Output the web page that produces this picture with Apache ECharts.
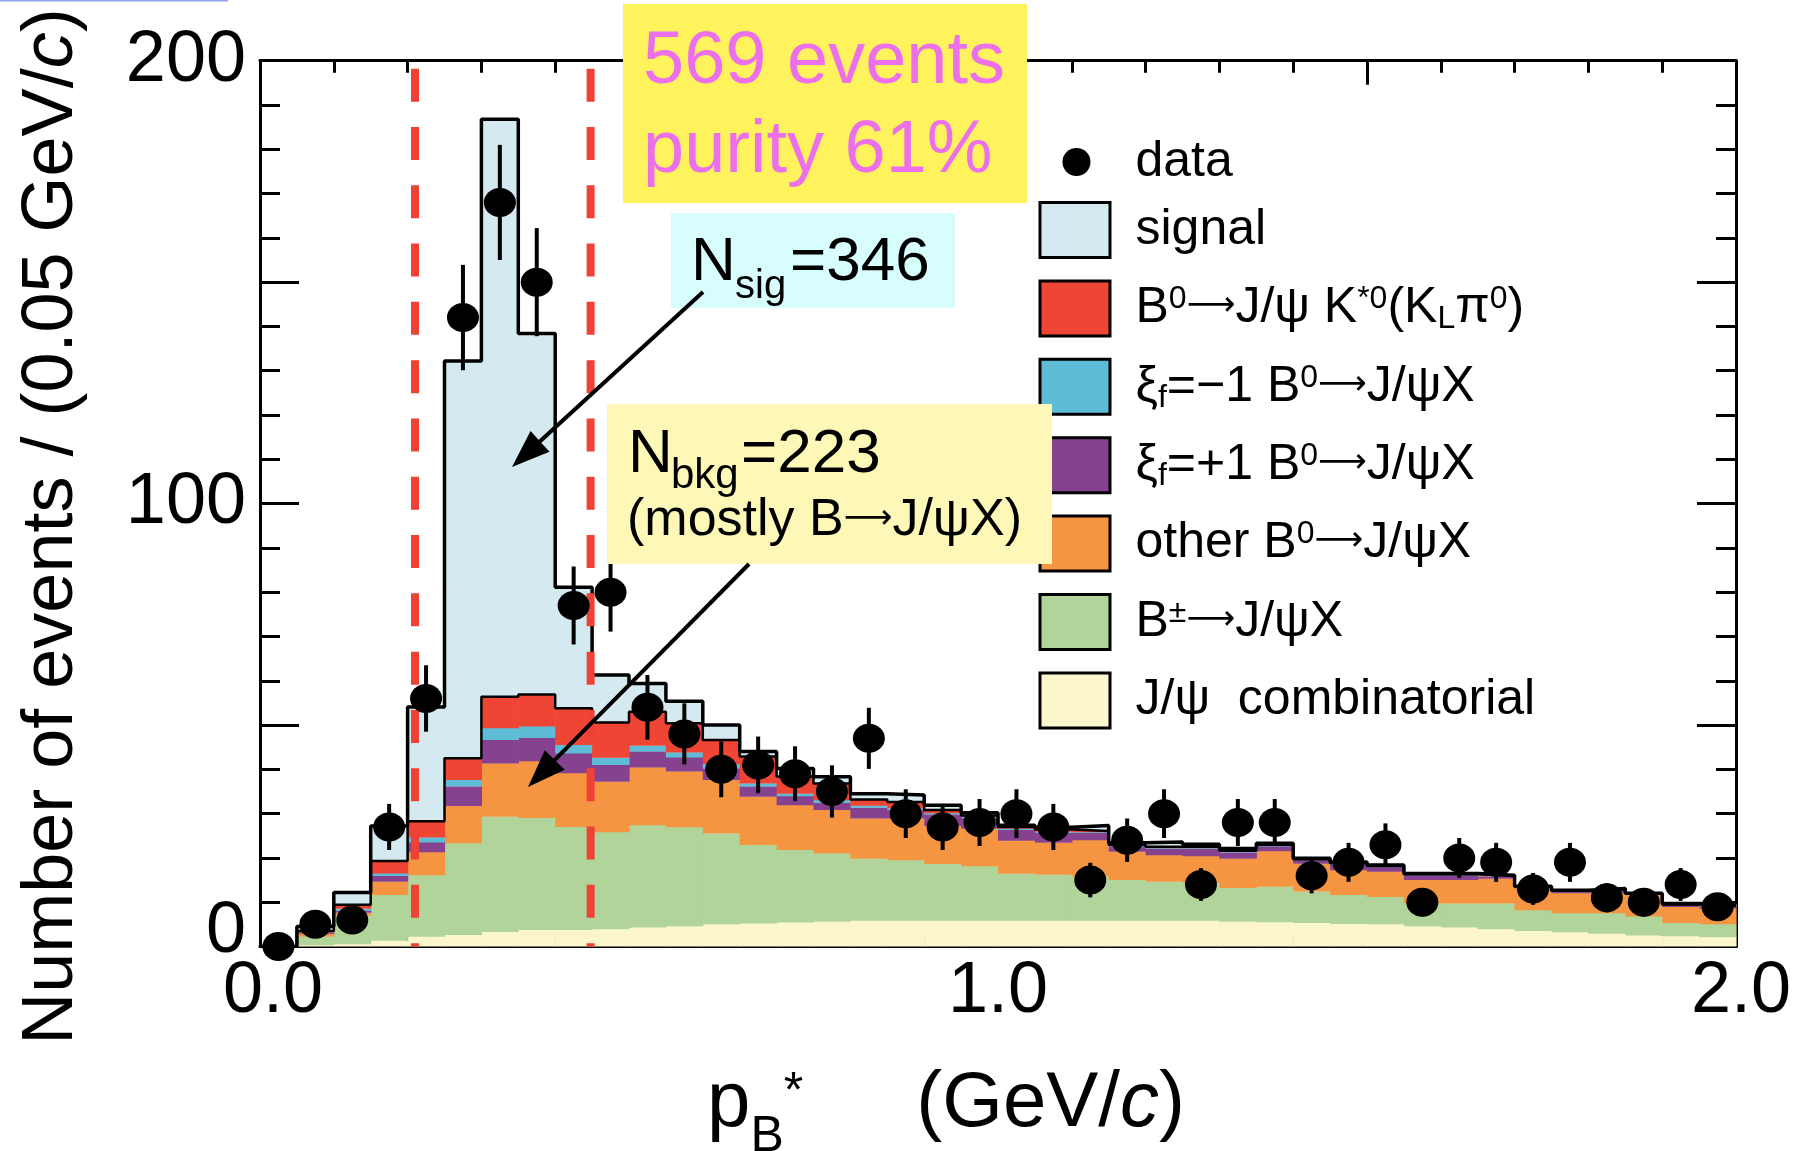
<!DOCTYPE html>
<html>
<head>
<meta charset="utf-8">
<script src="https://cdn.jsdelivr.net/npm/echarts@6/dist/echarts.min.js"></script>
<style>
  html, body { margin: 0; padding: 0; background: #fff; }
  #chart { width: 1805px; height: 1151px; }
</style>
</head>
<body>
<div id="chart"></div>
<script>
// p_B* distribution, 0.05 GeV/c bins from 0 to 2.0 GeV/c
const binWidth = 0.05;
const binLow = [0.00, 0.05, 0.10, 0.15, 0.20, 0.25, 0.30, 0.35, 0.40, 0.45,
                0.50, 0.55, 0.60, 0.65, 0.70, 0.75, 0.80, 0.85, 0.90, 0.95,
                1.00, 1.05, 1.10, 1.15, 1.20, 1.25, 1.30, 1.35, 1.40, 1.45,
                1.50, 1.55, 1.60, 1.65, 1.70, 1.75, 1.80, 1.85, 1.90, 1.95];

// MC components (events per bin), bottom of the stack first
const combinatorial = [0, 0.3, 0.5, 1.3, 2.2, 2.6, 3.3, 3.7, 3.7, 3.9, 4.3, 4.6, 5.0, 5.2, 5.4, 5.6, 5.8, 5.8, 5.8, 5.8,
                       5.8, 5.8, 5.8, 5.8, 5.8, 5.8, 5.6, 5.5, 5.3, 5.1, 5.0, 4.6, 4.3, 3.9, 3.5, 3.2, 2.9, 2.5, 2.3, 2.1];
const bChargedX = [0, 1.9, 6.5, 10.3, 13.9, 20.7, 26.0, 25.3, 23.3, 21.9, 23.1, 22.3, 20.5, 17.7, 16.4, 15.4, 14.0, 13.7, 12.8, 12.3,
                   10.6, 10.4, 10.0, 9.2, 8.8, 8.6, 7.6, 8.0, 7.1, 6.5, 6.2, 5.1, 5.4, 5.8, 4.7, 4.3, 4.6, 4.3, 3.0, 2.9];
const otherB0X = [0, 0.6, 0.6, 3.0, 5.2, 8.4, 12.0, 12.8, 12.1, 11.4, 13.0, 12.6, 12.1, 10.9, 10.1, 9.8, 9.1, 9.4, 8.6, 8.5,
                  7.5, 7.2, 8.2, 6.4, 6.0, 6.0, 6.6, 8.0, 6.3, 5.6, 5.7, 5.3, 5.3, 5.6, 4.9, 4.5, 4.5, 4.8, 3.6, 3.6];
const xiPlusX = [0, 0.2, 0.5, 1.3, 2.2, 4.4, 5.3, 5.3, 4.5, 3.8, 3.6, 3.2, 2.6, 2.3, 2.0, 1.6, 2.4, 1.9, 2.6, 2.4,
                 2.4, 2.3, 1.6, 1.2, 1.4, 1.6, 1.4, 1.1, 0.8, 1.2, 1.0, 1.0, 1.0, 0.4, 0.2, 0.4, 0.7, 0.2, 0.4, 0.4];
const xiMinusX = [0, 0.1, 0.4, 0.6, 1.1, 1.5, 2.7, 2.6, 1.9, 1.6, 1.3, 1.1, 1.0, 0.7, 0.6, 0.6, 0.5, 0.4, 0.3, 0.3,
                  0.3, 0.2, 0.2, 0.2, 0.2, 0.2, 0.2, 0.2, 0.1, 0.2, 0.1, 0.2, 0.2, 0.1, 0.1, 0.1, 0.1, 0.1, 0.1, 0.1];
const kstarKLpi0 = [0, 0.4, 0.9, 2.8, 3.7, 4.9, 7.1, 7.2, 8.3, 8.0, 7.7, 6.6, 5.4, 6.1, 3.9, 3.8, 1.4, 1.4, 0.7, 0.3,
                    0.4, 0.5, 0.3, 0.2, 0.3, 0.3, 0.2, 0.2, 0.1, 0.2, 0.2, 0.1, 0.1, 0.1, 0.1, 0.1, 0.1, 0.05, 0.1, 0.1];
const signalMC = [0, 1.0, 2.8, 7.9, 25.8, 89.7, 130.4, 81.5, 27.3, 10.7, 6.4, 5.0, 3.4, 1.1, 1.8, 1.5, 1.3, 1.6, 1.1, 0.6,
                  0.4, 0.5, 1.2, 0.4, 1.1, 0.6, 0.5, 0.3, 0.2, 0.3, 0.2, 0.2, 0.2, 0.2, 0.1, 0.1, 0.2, 0.05, 0.2, 0.2];

// Data: events per bin and their statistical errors
const dataCounts = [0, 5, 6, 27, 56, 142, 168, 150, 77, 80, 54, 48, 40, 41, 39, 35, 47, 30, 27, 28,
                    30, 27, 15, 24, 30, 14, 28, 28, 16, 19, 23, 10, 20, 19, 13, 19, 11, 10, 14, 9];
const dataErrors = [0, 2.2, 2.4, 5.2, 7.5, 11.9, 13.0, 12.2, 8.8, 8.9, 7.3, 6.9, 6.3, 6.4, 6.2, 5.9, 6.9, 5.5, 5.2, 5.3,
                    5.5, 5.2, 3.9, 4.9, 5.5, 3.7, 5.3, 5.3, 4.0, 4.4, 4.8, 3.2, 4.5, 4.4, 3.6, 4.4, 3.3, 3.2, 3.7, 3.0];

// Signal-region cut positions (GeV/c)
const cutValues = [0.21, 0.448];

// Axis tick labels
const xTickLabels = { 0: '0.0', 1: '1.0', 2: '2.0' };
const yTickLabels = { 0: '0', 100: '100', 200: '200' };

const FONT = '"Liberation Sans", Arial, Helvetica, sans-serif';
const ARROW_FONT = '"DejaVu Sans", sans-serif';

const stackParts = [
  { name: 'comb',   values: combinatorial, color: '#fcf6cc' },
  { name: 'bpm',    values: bChargedX,     color: '#b1d49b' },
  { name: 'other',  values: otherB0X,      color: '#f59541' },
  { name: 'xip',    values: xiPlusX,       color: '#86418f' },
  { name: 'xim',    values: xiMinusX,      color: '#5ebcd6' },
  { name: 'kstar',  values: kstarKLpi0,    color: '#ef4535' },
  { name: 'signal', values: signalMC,      color: '#d4eaf0' }
];

const series = [];
const base = binLow.map(() => 0);
let backgroundTop = null;
stackParts.forEach((part) => {
  const data = binLow.map((x0, i) => [x0, x0 + binWidth, base[i], base[i] + part.values[i]]);
  part.values.forEach((v, i) => { base[i] += v; });
  if (part.name === 'kstar') backgroundTop = base.slice();
  const color = part.color;
  series.push({
    type: 'custom',
    name: part.name,
    z: 2,
    silent: true,
    itemStyle: { color },
    encode: { x: [0, 1], y: [2, 3] },
    renderItem(params, api) {
      const p0 = api.coord([api.value(0), api.value(3)]);
      const p1 = api.coord([api.value(1), api.value(2)]);
      return {
        type: 'rect',
        shape: { x: p0[0], y: p0[1] - 0.3, width: p1[0] - p0[0] + 0.6, height: p1[1] - p0[1] + 0.3 },
        style: { fill: color }
      };
    },
    data
  });
});
const totalTop = base.slice();

function stepPoints(tops) {
  const pts = binLow.map((x, i) => [x, tops[i]]);
  pts.push([binLow[binLow.length - 1] + binWidth, tops[tops.length - 1]]);
  return pts;
}

// black outlines: background sum and full MC sum
series.push({
  type: 'line', name: 'bkgOutline', step: 'end', symbol: 'none', silent: true, z: 3,
  data: stepPoints(backgroundTop), lineStyle: { color: '#000', width: 2.5 }
});
series.push({
  type: 'line', name: 'totalOutline', step: 'end', symbol: 'none', silent: true, z: 4,
  data: stepPoints(totalTop), lineStyle: { color: '#000', width: 3.5 }
});

// red dashed cut lines
cutValues.forEach((c, k) => {
  series.push({
    type: 'line', name: 'cut' + k, symbol: 'none', silent: true, z: 5,
    data: [[c, 198.2], [c, 0]],
    lineStyle: { color: '#ef4136', width: 8, type: [33, 25.3], cap: 'butt' }
  });
});

const binCenters = binLow.map((x) => x + binWidth / 2);

// error bars
series.push({
  type: 'custom', name: 'errors', z: 6, silent: true,
  encode: { x: 0, y: 1 },
  renderItem(params, api) {
    const x = api.value(0), v = api.value(1), e = api.value(2);
    const a = api.coord([x, v + e]);
    const b = api.coord([x, v - e]);
    return { type: 'line', shape: { x1: a[0], y1: a[1], x2: b[0], y2: b[1] }, style: { stroke: '#000', lineWidth: 4 } };
  },
  data: binCenters.map((x, i) => [x, dataCounts[i], dataErrors[i]])
});

// data points
series.push({
  type: 'scatter', name: 'data', z: 7, silent: true,
  symbol: 'circle', symbolSize: [32, 29],
  itemStyle: { color: '#000', borderWidth: 0, opacity: 1 },
  data: binCenters.map((x, i) => [x, dataCounts[i]])
});

const legendLabels = {
  data: '{g0| }{t|data}',
  signal: '{g| }{t|signal}',
  kstar: '{g| }{t|B}{sup|0}{ar|⟶}{t|J/ψ K}{sup|*0}{t|(K}{sub|L}{t|π}{sup|0}{t|)}',
  xim: '{g| }{t|ξ}{sub|f}{t|=−1 B}{sup|0}{ar|⟶}{t|J/ψX}',
  xip: '{g| }{t|ξ}{sub|f}{t|=+1 B}{sup|0}{ar|⟶}{t|J/ψX}',
  other: '{g| }{t|other B}{sup|0}{ar|⟶}{t|J/ψX}',
  bpm: '{g| }{t|B}{sup|±}{ar|⟶}{t|J/ψX}',
  comb: '{g| }{t|J/ψ  combinatorial}'
};
const legendRich = {
  t: { fontSize: 50, fontFamily: FONT, color: '#000', lineHeight: 57 },
  ar: { fontSize: 34, fontFamily: ARROW_FONT, color: '#000', lineHeight: 34, padding: [0, 0, 4, 0] },
  sup: { fontSize: 32, fontFamily: FONT, color: '#000', lineHeight: 32, padding: [0, 0, 18, 0] },
  sub: { fontSize: 32, fontFamily: FONT, color: '#000', lineHeight: 32, padding: [22, 0, 0, 0] },
  g: { width: 20.5, lineHeight: 57, fontSize: 10 },
  g0: { width: 40, lineHeight: 57, fontSize: 10 }
};

const legendColors = {};
stackParts.forEach((p) => { legendColors[p.name] = p.color; });
const boxItems = ['signal', 'kstar', 'xim', 'xip', 'other', 'bpm', 'comb'].map((n) => ({
  name: n, icon: 'rect',
  itemStyle: { color: legendColors[n], borderColor: '#000', borderWidth: 3 }
}));

function arrow(x1, y1, x2, y2) {
  const dx = x2 - x1, dy = y2 - y1, L = Math.hypot(dx, dy);
  const ux = dx / L, uy = dy / L;
  const hl = 38, hw = 14;
  const bx = x2 - ux * hl, by = y2 - uy * hl;
  return [
    { type: 'line', z: 120, shape: { x1, y1, x2: bx + ux * 4, y2: by + uy * 4 }, style: { stroke: '#000', lineWidth: 4 } },
    { type: 'polygon', z: 120, shape: { points: [[x2, y2], [bx - uy * hw, by + ux * hw], [bx + uy * hw, by - ux * hw]] }, style: { fill: '#000' } }
  ];
}

function txt(x, y, text, size, color) {
  return { type: 'text', x, y, z: 121, style: { text, font: size + 'px ' + FONT, fill: color, verticalAlign: 'middle', align: 'left' } };
}

const graphics = [
  { type: 'rect', z: 110, shape: { x: 0, y: 0, width: 228, height: 1.5 }, style: { fill: '#8ea3ee' } },
  { type: 'rect', z: 110, shape: { x: 623, y: 4, width: 404, height: 199 }, style: { fill: '#fef25d' } },
  txt(643, 63, '569 events', 74, '#ec70ec'),
  txt(643, 152, 'purity 61%', 74, '#ec70ec'),
  { type: 'rect', z: 110, shape: { x: 671, y: 213, width: 284, height: 95 }, style: { fill: '#d8fdfd' } },
  txt(691, 263, 'N', 62, '#000'),
  txt(735, 287, 'sig', 40, '#000'),
  txt(790, 263, '=346', 62, '#000'),
  { type: 'rect', z: 110, shape: { x: 607, y: 404, width: 445, height: 160 }, style: { fill: '#fdf8b7' } },
  txt(628, 455, 'N', 62, '#000'),
  txt(671, 476, 'bkg', 42, '#000'),
  txt(741, 455, '=223', 62, '#000'),
  {
    type: 'text', x: 627, y: 521, z: 121,
    style: {
      text: '{a|(mostly B}{r|⟶}{a|J/ψX)}',
      verticalAlign: 'middle', align: 'left',
      rich: {
        a: { fontSize: 52, fontFamily: FONT, fill: '#000', color: '#000' },
        r: { fontSize: 34, fontFamily: ARROW_FONT, fill: '#000', color: '#000', padding: [0, 0, 4, 0] }
      }
    }
  },
  ...arrow(703, 292, 512, 467),
  ...arrow(749, 564, 528, 787)
];

const axisCommon = {
  type: 'value',
  axisLine: { show: true, onZero: false, lineStyle: { color: '#000', width: 3 } },
  splitLine: { show: false }
};

const option = {
  animation: false,
  backgroundColor: '#fff',
  grid: { left: 260, right: 69, top: 60.7, bottom: 204.5, containLabel: false, outerBoundsMode: 'none' },
  xAxis: [
    Object.assign({}, axisCommon, {
      position: 'bottom', min: 0, max: 2, interval: 0.5,
      axisTick: { show: true, inside: true, length: 24, lineStyle: { color: '#000', width: 3 } },
      minorTick: { show: true, splitNumber: 5, length: 12, lineStyle: { color: '#000', width: 3 } },
      axisLabel: {
        show: true, margin: 10, color: '#000', fontSize: 72, fontFamily: FONT,
        formatter: (v) => {
          const r = Math.round(v * 10) / 10;
          if (r === 0) return '{l|' + xTickLabels[0] + '}';
          if (r === 1) return '{a|' + xTickLabels[1] + '}';
          if (r === 2) return '{r|' + xTickLabels[2] + '}';
          return '';
        },
        rich: {
          a: { fontSize: 72, fontFamily: FONT, color: '#000' },
          l: { fontSize: 72, fontFamily: FONT, color: '#000', padding: [0, 0, 0, 26] },
          r: { fontSize: 72, fontFamily: FONT, color: '#000', padding: [0, 0, 0, 10] }
        }
      },
      name: '{p|p}{sub|B}{sup|*}{g| }{n|(GeV/}{it|c}{n|)}',
      nameLocation: 'middle',
      nameGap: 100,
      nameTextStyle: {
        padding: [0, 104, 0, 0],
        rich: {
          p: { fontSize: 78, fontFamily: FONT, color: '#000' },
          n: { fontSize: 78, fontFamily: FONT, color: '#000' },
          it: { fontSize: 78, fontFamily: FONT, color: '#000', fontStyle: 'italic' },
          sub: { fontSize: 50, fontFamily: FONT, color: '#000', padding: [66, 0, 0, 0] },
          sup: { fontSize: 50, fontFamily: FONT, color: '#000', padding: [0, 0, 22, 0] },
          g: { width: 113, fontSize: 10 }
        }
      }
    }),
    Object.assign({}, axisCommon, {
      position: 'top', min: 0, max: 2, interval: 0.5,
      axisTick: { show: true, inside: true, length: 24, lineStyle: { color: '#000', width: 3 } },
      minorTick: { show: true, splitNumber: 5, length: 12, lineStyle: { color: '#000', width: 3 } },
      axisLabel: { show: false }
    })
  ],
  yAxis: [
    Object.assign({}, axisCommon, {
      position: 'left', min: 0, max: 200, interval: 50,
      axisTick: { show: true, inside: true, length: 39, lineStyle: { color: '#000', width: 3 } },
      minorTick: { show: true, splitNumber: 5, length: 20, lineStyle: { color: '#000', width: 3 } },
      axisLabel: {
        show: true, margin: 14, color: '#000', fontSize: 72, fontFamily: FONT,
        formatter: (v) => {
          if (v === 0) return '{z|' + yTickLabels[0] + '}';
          if (yTickLabels[v] !== undefined) return '{a|' + yTickLabels[v] + '}';
          return '';
        },
        rich: {
          a: { fontSize: 72, fontFamily: FONT, color: '#000' },
          z: { fontSize: 72, fontFamily: FONT, color: '#000', padding: [0, 0, 29, 0] }
        }
      },
      name: '{n|Number of events / (0.05 GeV/}{it|c}{n|)}',
      nameLocation: 'middle',
      nameGap: 172,
      nameTextStyle: {
        padding: [0, 46, 0, 0],
        rich: {
          n: { fontSize: 72, fontFamily: FONT, color: '#000' },
          it: { fontSize: 72, fontFamily: FONT, color: '#000', fontStyle: 'italic' }
        }
      }
    }),
    Object.assign({}, axisCommon, {
      position: 'right', min: 0, max: 200, interval: 50,
      axisTick: { show: true, inside: true, length: 39, lineStyle: { color: '#000', width: 3 } },
      minorTick: { show: true, splitNumber: 5, length: 20, lineStyle: { color: '#000', width: 3 } },
      axisLabel: { show: false }
    })
  ],
  legend: [
    {
      data: [{ name: 'data', icon: 'circle', itemStyle: { color: '#000', borderWidth: 0 } }],
      orient: 'vertical', left: 1057.5, top: 132,
      itemWidth: 28, itemHeight: 28, selectedMode: false,
      formatter: (n) => legendLabels[n],
      textStyle: { fontSize: 50, fontFamily: FONT, color: '#000', rich: legendRich }
    },
    {
      data: boxItems,
      orient: 'vertical', left: 1033.5, top: 196,
      itemWidth: 70, itemHeight: 55, itemGap: 20.4, selectedMode: false,
      formatter: (n) => legendLabels[n],
      textStyle: { fontSize: 50, fontFamily: FONT, color: '#000', rich: legendRich }
    }
  ],
  graphic: graphics,
  series
};

const chart = echarts.init(document.getElementById('chart'), null, { renderer: 'canvas' });
chart.setOption(option);
</script>
</body>
</html>
